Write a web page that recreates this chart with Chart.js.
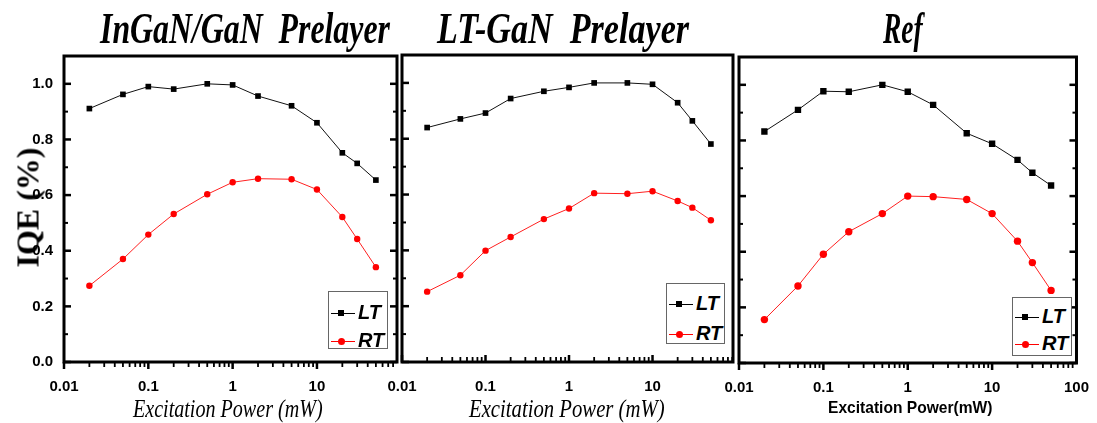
<!DOCTYPE html>
<html>
<head>
<meta charset="utf-8">
<script src="https://cdn.jsdelivr.net/npm/chart.js@4.4.1/dist/chart.umd.min.js"></script>
<style>
  body { margin: 0; background: #fff; }
  #wrap { position: relative; width: 1097px; height: 423px; overflow: hidden; }
  canvas { position: absolute; left: 0; top: 0; }
  .txt { position: absolute; white-space: pre; transform-origin: 0 0; line-height: 1; color: #000; }
  .ptitle { font: italic bold 44px "Liberation Serif"; }
  .xtitle { font: italic 26px "Liberation Serif"; }
  .xtitle2 { font: bold 17px "Liberation Sans"; }
  .ytitle { font: bold 32px "Liberation Serif"; transform-origin: 50% 50%; }
  .legend { position: absolute; border: 1px solid #666; box-sizing: border-box; background: #fff; }
  .legend .row { position: absolute; left: 0; width: 100%; height: 0; }
  .legend .line { position: absolute; left: 2px; width: 24px; height: 1px; top: 0; background: #000; }
  .legend .mk { position: absolute; left: 9px; top: -3px; width: 6px; height: 6px; background: #000; }
  .legend .rt .line { background: #f00; }
  .legend .rt .mk { background: #f00; border-radius: 50%; width: 7px; height: 7px; left: 9px; top: -3px; }
  .legend .lab { position: absolute; left: 29px; top: -11px; font: italic bold 20px "Liberation Sans"; line-height: 1; }
</style>
</head>
<body>
<div id="wrap">
  <canvas id="c1" width="1097" height="423"></canvas>
  <canvas id="c2" width="1097" height="423"></canvas>
  <canvas id="c3" width="1097" height="423"></canvas>
</div>
<script>
// excitation power (mW) for every measurement
const power = [0.02, 0.05, 0.1, 0.2, 0.5, 1, 2, 5, 10, 20, 30, 50]

// IQE, InGaN/GaN prelayer
const ingaLT = [0.911, 0.962, 0.990, 0.981, 1.000, 0.996, 0.956, 0.921, 0.860, 0.752, 0.714, 0.654]
const ingaRT = [0.274, 0.370, 0.458, 0.532, 0.603, 0.646, 0.659, 0.657, 0.620, 0.521, 0.442, 0.341]

// IQE, LT-GaN prelayer
const ltganLT = [0.840, 0.871, 0.892, 0.944, 0.970, 0.984, 1.000, 1.000, 0.995, 0.929, 0.864, 0.781]
const ltganRT = [0.252, 0.311, 0.399, 0.448, 0.512, 0.550, 0.605, 0.603, 0.612, 0.577, 0.553, 0.508]

// IQE, reference sample
const refLT = [0.832, 0.910, 0.977, 0.975, 1.000, 0.975, 0.928, 0.826, 0.788, 0.730, 0.684, 0.638]
const refRT = [0.156, 0.277, 0.391, 0.472, 0.537, 0.600, 0.598, 0.588, 0.537, 0.438, 0.361, 0.261]

// ticks
const xTickValues = [0.01, 0.1, 1, 10, 100]
const xTickLabels = ['0.01', '0.1', '1', '10', '100']
const yTickValues = [0, 0.2, 0.4, 0.6, 0.8, 1.0]
const yTickLabels = ['0.0', '0.2', '0.4', '0.6', '0.8', '1.0']
const yMinorValues = [0.1, 0.3, 0.5, 0.7, 0.9]

const titles = ['InGaN/GaN  Prelayer', 'LT-GaN  Prelayer', 'Ref']

// frame + inward/outward tick marks, drawn through the chart scales
const frameTicks = {
  id: 'frameTicks',
  afterDraw(chart, args, o) {
    const { ctx, chartArea: a, scales: { x, y } } = chart
    ctx.save()
    ctx.strokeStyle = '#000'
    ctx.lineCap = 'butt'
    const hline = (px, py, len, w) => {
      ctx.lineWidth = w
      ctx.beginPath(); ctx.moveTo(px, py); ctx.lineTo(px + len, py); ctx.stroke()
    }
    const vline = (px, py, len, w) => {
      ctx.lineWidth = w
      ctx.beginPath(); ctx.moveTo(px, py); ctx.lineTo(px, py + len); ctx.stroke()
    }
    yTickValues.forEach(v => {
      const py = y.getPixelForValue(v)
      hline(a.left, py, 7, 2.5)
      if (o.mirror) hline(a.right, py, -7, 2.5)
    })
    yMinorValues.forEach(v => {
      const py = y.getPixelForValue(v)
      hline(a.left, py, 4, 2)
      if (o.mirror) hline(a.right, py, -4, 2)
    })
    const dir = o.xOut ? 1 : -1
    for (let d = 0.01; d < x.max; d *= 10) {
      for (let m = 1; m <= 9; m++) {
        const v = d * m
        if (v > x.max * 1.0001) break
        const px = x.getPixelForValue(v)
        vline(px, a.bottom, dir * (m === 1 ? 7 : 5), m === 1 ? 2.5 : 1.8)
      }
    }
    ctx.lineWidth = 3
    ctx.strokeRect(a.left, a.top, a.width, a.height)
    ctx.restore()
  }
}

function makePanel(id, geo, lt, rt) {
  const ctx = document.getElementById(id).getContext('2d')
  return new Chart(ctx, {
    type: 'line',
    data: {
      labels: power,
      datasets: [
        {
          label: 'LT',
          data: power.map((p, i) => ({ x: p, y: lt[i] })),
          borderColor: '#111',
          backgroundColor: '#000',
          borderWidth: 1,
          pointStyle: 'rect',
          pointRadius: geo.sq,
          pointBorderWidth: 0
        },
        {
          label: 'RT',
          data: power.map((p, i) => ({ x: p, y: rt[i] })),
          borderColor: '#ff2020',
          backgroundColor: '#ff0000',
          borderWidth: 1,
          pointStyle: 'circle',
          pointRadius: geo.dot,
          pointBorderWidth: 0
        }
      ]
    },
    options: {
      responsive: false,
      animation: false,
      devicePixelRatio: 1,
      layout: { padding: { left: geo.left - 40, top: geo.top, right: 1097 - geo.right, bottom: 0 } },
      plugins: { legend: { display: false }, tooltip: { enabled: false }, frameTicks: { mirror: geo.mirror, xOut: geo.xOut } },
      scales: {
        x: {
          type: 'logarithmic',
          min: 0.01,
          max: geo.xmax,
          grid: { display: false },
          border: { display: false },
          ticks: {
            color: '#000',
            font: { family: 'Liberation Sans', weight: 'bold', size: 15 },
            padding: 8,
            maxRotation: 0,
            autoSkip: false,
            callback: v => xTickLabels[xTickValues.indexOf(v)]
          },
          afterBuildTicks: s => { s.ticks = xTickValues.filter(v => v <= geo.xmax).map(v => ({ value: v })) },
          afterFit: s => { s.height = 423 - geo.bottom }
        },
        y: {
          min: 0,
          max: 1.1,
          grid: { display: false },
          border: { display: false },
          ticks: {
            display: geo.yLabels,
            color: '#000',
            font: { family: 'Liberation Sans', weight: 'bold', size: 15 },
            padding: 3,
            callback: v => yTickLabels[yTickValues.indexOf(v)]
          },
          afterBuildTicks: s => { s.ticks = yTickValues.map(v => ({ value: v })) },
          afterFit: s => { s.width = 40 }
        }
      }
    },
    plugins: [frameTicks]
  })
}

makePanel('c1', { left: 64, right: 397, top: 56, bottom: 362, xmax: 89, mirror: true, xOut: true, yLabels: true, sq: 4, dot: 3.2 }, ingaLT, ingaRT)
makePanel('c2', { left: 402, right: 733, top: 55, bottom: 362, xmax: 92, mirror: false, xOut: false, yLabels: false, sq: 4, dot: 3.2 }, ltganLT, ltganRT)
makePanel('c3', { left: 739, right: 1079, top: 57, bottom: 363, xmax: 100, mirror: true, xOut: true, yLabels: false, sq: 4.5, dot: 3.7 }, refLT, refRT)

// text overlays: text, class, centre x, top, target width
const wrap = document.getElementById('wrap')
function addText(text, cls, cx, top, w) {
  const d = document.createElement('div')
  d.className = 'txt ' + cls
  d.textContent = text
  wrap.appendChild(d)
  const k = w / d.offsetWidth
  d.style.left = (cx - w / 2) + 'px'
  d.style.top = top + 'px'
  d.style.transform = 'scaleX(' + k + ')'
}
addText(titles[0], 'ptitle', 245, 3, 290)
addText(titles[1], 'ptitle', 563, 3, 252)
addText(titles[2], 'ptitle', 903, 3, 40)
addText('Excitation Power (mW)', 'xtitle', 228, 394, 190)
addText('Excitation Power (mW)', 'xtitle', 567, 394, 196)
addText('Excitation Power(mW)', 'xtitle2', 910, 398, 164)

const yt = document.createElement('div')
yt.className = 'txt ytitle'
yt.textContent = 'IQE (%)'
wrap.appendChild(yt)
yt.style.left = (28 - yt.offsetWidth / 2) + 'px'
yt.style.top = (207 - yt.offsetHeight / 2) + 'px'
yt.style.transform = 'rotate(-90deg)'

// legends: box left, top, width, height, row offsets
function addLegend(x, y, w, h, r1, r2) {
  const d = document.createElement('div')
  d.className = 'legend'
  d.style.cssText = `left:${x}px;top:${y}px;width:${w}px;height:${h}px`
  d.innerHTML = `<div class="row lt" style="top:${r1}px"><span class="line"></span><span class="mk"></span><span class="lab">LT</span></div>` +
    `<div class="row rt" style="top:${r2}px"><span class="line"></span><span class="mk"></span><span class="lab">RT</span></div>`
  wrap.appendChild(d)
}
addLegend(328, 291, 60, 58, 21, 49)
addLegend(666, 283, 59, 61, 20, 50)
addLegend(1012, 297, 60, 59, 19, 46)
</script>
</body>
</html>
